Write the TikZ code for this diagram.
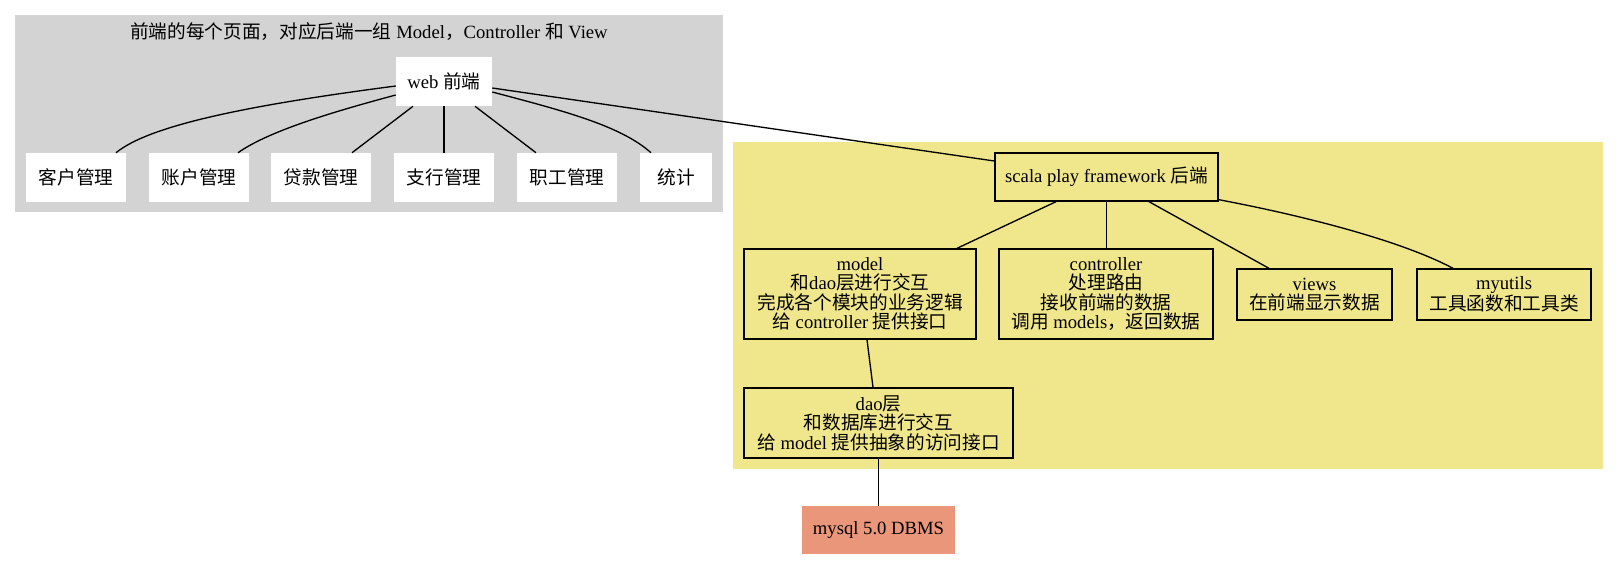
\documentclass[tikz,border=0pt]{standalone}
\usepackage{fontspec}
\setmainfont{Liberation Serif}
\newfontfamily\cjk{Noto Sans CJK SC}
\usetikzlibrary{calc}
\definecolor{clgray}{HTML}{D3D3D3}
\definecolor{khakic}{HTML}{F0E68C}
\definecolor{dsalmon}{HTML}{E9967A}
\newcommand\C[1]{{\cjk #1}}
\newcommand\pxu[1]{#1*0.75pt}
\begin{document}
\begin{tikzpicture}[x=0.75pt,y=-0.75pt,
  every node/.style={font=\fontsize{14}{14.6}\selectfont, inner sep=0pt, align=center},
  wbox/.style={fill=white, minimum height=\pxu{49}},
  ybox/.style={draw=black, line width=1pt},
  edge/.style={draw=black, line width=1pt}]
\useasboundingbox (0,0) rectangle (1619,560);
% clusters
\fill[clgray] (15,15) rectangle (723,212);
\fill[khakic] (733,142) rectangle (1603,469);
\node (title) at (369,32) {\C{前端的每个页面，对应后端一组} Model\C{，}Controller \C{和} View};
% front-end nodes
\node[wbox, minimum width=\pxu{96}] (web) at (444,81.5) {web \C{前端}};
\node[wbox, minimum width=\pxu{100}] (k1) at (76,177.5) {\C{客户管理}};
\node[wbox, minimum width=\pxu{100}] (k2) at (199,177.5) {\C{账户管理}};
\node[wbox, minimum width=\pxu{100}] (k3) at (321,177.5) {\C{贷款管理}};
\node[wbox, minimum width=\pxu{100}] (k4) at (444,177.5) {\C{支行管理}};
\node[wbox, minimum width=\pxu{100}] (k5) at (567,177.5) {\C{职工管理}};
\node[wbox, minimum width=\pxu{72}] (k6) at (676,177.5) {\C{统计}};
% back-end nodes
\node[ybox, minimum width=\pxu{223}, minimum height=\pxu{48}] (scala) at (1106.5,177) {scala play framework \C{后端}};
\node[ybox, minimum width=\pxu{232}, minimum height=\pxu{90}] (model) at (860,294) {model\\\C{和}dao\C{层进行交互}\\\C{完成各个模块的业务逻辑}\\\C{给} controller \C{提供接口}};
\node[ybox, minimum width=\pxu{214}, minimum height=\pxu{90}] (ctrl) at (1106,294) {controller\\\C{处理路由}\\\C{接收前端的数据}\\\C{调用} models\C{，返回数据}};
\node[ybox, minimum width=\pxu{155}, minimum height=\pxu{51}] (views) at (1314.5,294.5) {views\\\C{在前端显示数据}};
\node[ybox, minimum width=\pxu{174}, minimum height=\pxu{51}] (utils) at (1504,294.5) {myutils\\\C{工具函数和工具类}};
\node[ybox, minimum width=\pxu{269}, minimum height=\pxu{70}] (dao) at (878.5,423) {dao\C{层}\\\C{和数据库进行交互}\\\C{给} model \C{提供抽象的访问接口}};
\node[fill=dsalmon, minimum width=\pxu{153}, minimum height=\pxu{48}] (mysql) at (878.5,530) {mysql 5.0 DBMS};
% edges front-end
\draw[edge] ($(web.west)+(0,4.5)$) .. controls (250,105) and (150,125) .. ($(k1.north)+(40,0)$);
\draw[edge] ($(web.west)+(0,13.5)$) .. controls (340,110) and (270,130) .. ($(k2.north)+(39,0)$);
\draw[edge] ($(web.south)+(-31,0)$) -- ($(k3.north)+(31,0)$);
\draw[edge] (web.south) -- (k4.north);
\draw[edge] ($(web.south)+(31,0)$) -- ($(k5.north)+(-31,0)$);
\draw[edge] ($(web.east)+(0,10.5)$) .. controls (560,110) and (620,125) .. ($(k6.north)+(-25,0)$);
\draw[edge] ($(web.east)+(0,6.5)$) -- ($(scala.west)+(0,-16)$);
% edges back-end
\draw[edge] ($(scala.south)+(-50.5,0)$) -- ($(model.north)+(97,0)$);
\draw[edge] (scala.south) -- (scala.south |- ctrl.north);
\draw[edge] ($(scala.south)+(42.5,0)$) -- ($(views.north)+(-45.5,0)$);
\draw[edge] ($(scala.south east)+(0,-2)$) .. controls (1300,215) and (1400,240) .. ($(utils.north)+(-51,0)$);
\draw[edge] ($(model.south)+(7,0)$) -- ($(dao.north)+(-5.5,0)$);
\draw[edge] (dao.south) -- (mysql.north);
\end{tikzpicture}
\end{document}
